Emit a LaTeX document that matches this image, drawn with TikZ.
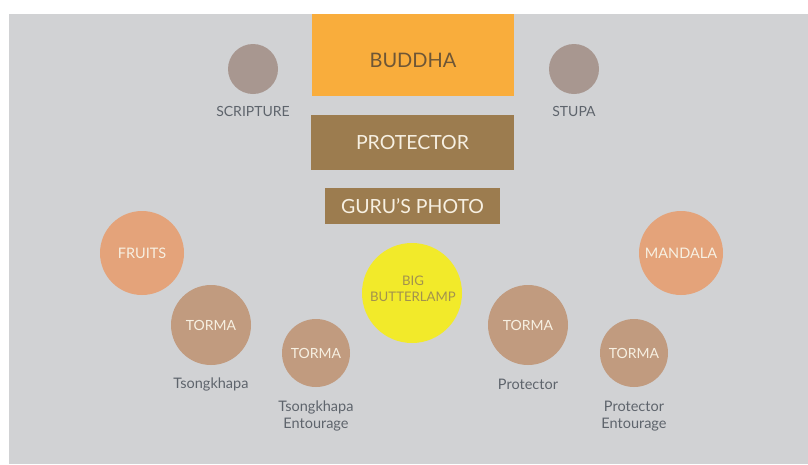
\documentclass[tikz,border=0pt]{standalone}
\usepackage{fontspec}
\setmainfont{Lato}
\definecolor{bg}{HTML}{D1D2D4}
\definecolor{buddha}{HTML}{F9AD3C}
\definecolor{buddhatxt}{HTML}{6E5636}
\definecolor{boxbrown}{HTML}{9C7C4F}
\definecolor{cream}{HTML}{F7F0E2}
\definecolor{greycirc}{HTML}{A89790}
\definecolor{labeltxt}{HTML}{5E646C}
\definecolor{peach}{HTML}{E4A37A}
\definecolor{torma}{HTML}{C19B7F}
\definecolor{lamp}{HTML}{F2EA2A}
\definecolor{lamptxt}{HTML}{A2924E}
\tikzset{
  rectbox/.style={draw=none, fill=boxbrown, text=cream, font=\fontsize{19.5}{21}\selectfont, inner sep=0pt, anchor=center},
  smallcirc/.style={circle, fill=greycirc, minimum size=50pt, inner sep=0pt},
  peachcirc/.style={circle, fill=peach, minimum size=84pt, inner sep=0pt, text=cream, font=\fontsize{14.5}{16}\selectfont},
  bigtorma/.style={circle, fill=torma, minimum size=80pt, inner sep=0pt, text=cream, font=\fontsize{14}{16}\selectfont},
  smalltorma/.style={circle, fill=torma, minimum size=68pt, inner sep=0pt, text=cream, font=\fontsize{14}{16}\selectfont},
  lbl/.style={text=labeltxt, font=\fontsize{14.5}{17.5}\selectfont, align=center, inner sep=0pt},
  caplbl/.style={text=labeltxt, font=\fontsize{14}{16}\selectfont, inner sep=0pt},
}
\begin{document}
\begin{tikzpicture}[x=1pt,y=-1pt]
\useasboundingbox (0,0) rectangle (808,464);
\fill[white] (0,0) rectangle (808,464);
\fill[bg] (8.5,14) rectangle (808,464);
% top row
\node[fill=buddha, minimum width=202pt, minimum height=82pt, inner sep=0pt] (buddha) at (413,55) {};
\node[text=buddhatxt, font=\fontsize{20}{22}\selectfont, inner sep=0pt] (buddhatext) at (413,60) {BUDDHA};
\node[rectbox, minimum width=203pt, minimum height=55pt] (protector) at (412.5,142.5) {PROTECTOR};
\node[rectbox, minimum width=175pt, minimum height=36pt] (guru) at (412.5,206) {GURU'S PHOTO};
\node[smallcirc] (scripture) at (253,69) {};
\node[caplbl] (scripturelbl) at (253,111) {SCRIPTURE};
\node[smallcirc] (stupa) at (574,69) {};
\node[caplbl] (stupalbl) at (574,111) {STUPA};
% fruits & mandala
\node[peachcirc] (fruits) at (142,253) {FRUITS};
\node[peachcirc] (mandala) at (681,253) {MANDALA};
% butter lamp
\node[circle, fill=lamp, minimum size=100pt, inner sep=0pt] (lamp) at (412,293) {};
\node[text=lamptxt, align=center, font=\fontsize{13.2}{16.5}\selectfont, inner sep=0pt] (lamptext) at (413,289) {BIG\\BUTTERLAMP};
% tormas
\node[bigtorma] (t1) at (211,325) {TORMA};
\node[lbl] (t1lbl) at (211,384) {Tsongkhapa};
\node[smalltorma] (t2) at (316,353) {TORMA};
\node[lbl] (t2lbl) at (316,416) {Tsongkhapa\\Entourage};
\node[bigtorma] (t3) at (528,325) {TORMA};
\node[lbl] (t3lbl) at (528,384) {Protector};
\node[smalltorma] (t4) at (634,353) {TORMA};
\node[lbl] (t4lbl) at (634,416) {Protector\\Entourage};
\end{tikzpicture}
\end{document}
